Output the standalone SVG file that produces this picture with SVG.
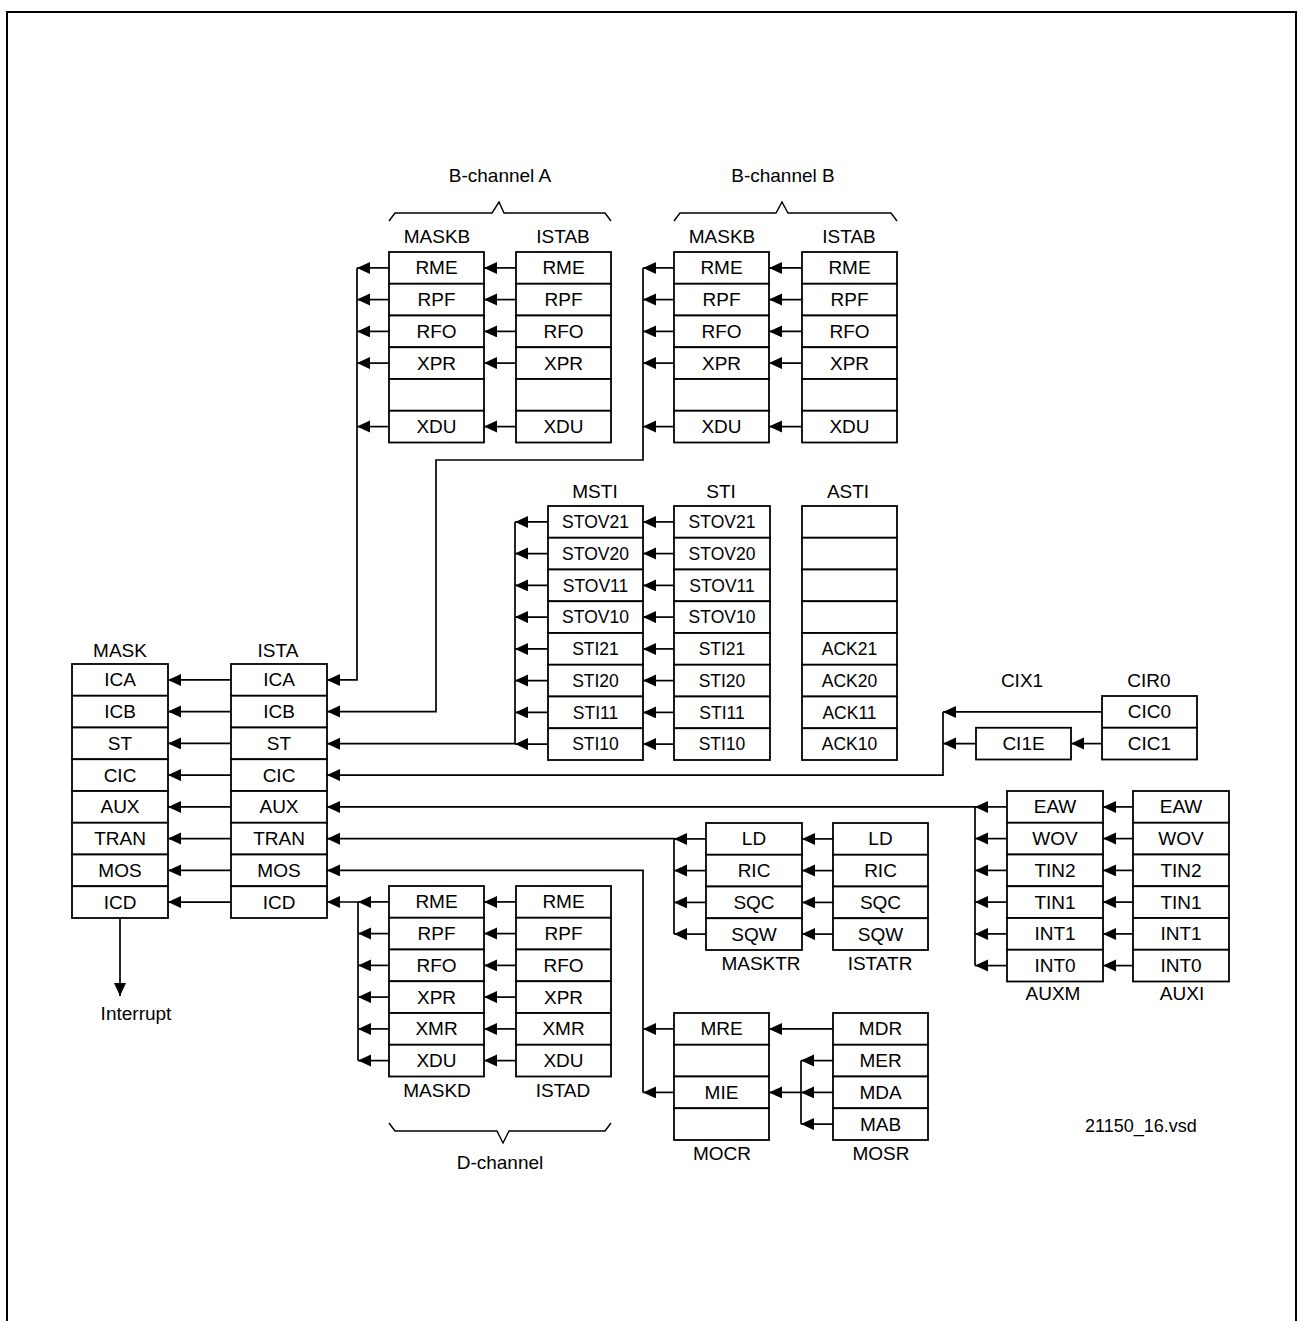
<svg xmlns="http://www.w3.org/2000/svg" width="1298" height="1321" viewBox="0 0 1298 1321">
<style>
.c{fill:#fff;stroke:#000;stroke-width:1.8}
text{font-family:"Liberation Sans",Arial,sans-serif;font-size:19px;fill:#000;text-anchor:middle}
.s{font-size:17.5px}
.w{fill:none;stroke:#000;stroke-width:1.7}
.a{fill:none;stroke:#000;stroke-width:1.7;marker-end:url(#ah)}
.br{fill:none;stroke:#000;stroke-width:1.4}
</style>
<defs>
<marker id="ah" markerUnits="userSpaceOnUse" markerWidth="14" markerHeight="13" refX="13" refY="6" orient="auto" viewBox="0 0 14 13">
<path d="M0,0 L13,6 L0,12 z" fill="#000"/>
</marker>
</defs>
<rect width="1298" height="1321" fill="#fff"/>
<path d="M7,1321 V12 H1296 V1321" fill="none" stroke="#000" stroke-width="2"/>

<g id="connectors">
<!-- ISTA to MASK -->
<line class="a" x1="231" y1="679.9" x2="168" y2="679.9"/>
<line class="a" x1="231" y1="711.6" x2="168" y2="711.6"/>
<line class="a" x1="231" y1="743.4" x2="168" y2="743.4"/>
<line class="a" x1="231" y1="775.1" x2="168" y2="775.1"/>
<line class="a" x1="231" y1="806.9" x2="168" y2="806.9"/>
<line class="a" x1="231" y1="838.6" x2="168" y2="838.6"/>
<line class="a" x1="231" y1="870.4" x2="168" y2="870.4"/>
<line class="a" x1="231" y1="902.1" x2="168" y2="902.1"/>
<path class="a" d="M120,918 V996"/>
<!-- B-channel A -->
<line class="a" x1="516" y1="267.9" x2="484" y2="267.9"/>
<line class="a" x1="516" y1="299.6" x2="484" y2="299.6"/>
<line class="a" x1="516" y1="331.4" x2="484" y2="331.4"/>
<line class="a" x1="516" y1="363.1" x2="484" y2="363.1"/>
<line class="a" x1="516" y1="426.6" x2="484" y2="426.6"/>
<line class="a" x1="389" y1="267.9" x2="357" y2="267.9"/>
<line class="a" x1="389" y1="299.6" x2="357" y2="299.6"/>
<line class="a" x1="389" y1="331.4" x2="357" y2="331.4"/>
<line class="a" x1="389" y1="363.1" x2="357" y2="363.1"/>
<line class="a" x1="389" y1="426.6" x2="357" y2="426.6"/>
<path class="a" d="M357,267.9 V679.9 H327"/>
<!-- B-channel B -->
<line class="a" x1="802" y1="267.9" x2="769" y2="267.9"/>
<line class="a" x1="802" y1="299.6" x2="769" y2="299.6"/>
<line class="a" x1="802" y1="331.4" x2="769" y2="331.4"/>
<line class="a" x1="802" y1="363.1" x2="769" y2="363.1"/>
<line class="a" x1="802" y1="426.6" x2="769" y2="426.6"/>
<line class="a" x1="674" y1="267.9" x2="643" y2="267.9"/>
<line class="a" x1="674" y1="299.6" x2="643" y2="299.6"/>
<line class="a" x1="674" y1="331.4" x2="643" y2="331.4"/>
<line class="a" x1="674" y1="363.1" x2="643" y2="363.1"/>
<line class="a" x1="674" y1="426.6" x2="643" y2="426.6"/>
<path class="a" d="M643,267.9 V460 H436 V711.6 H327"/>
<!-- STI -->
<line class="a" x1="674" y1="521.9" x2="643" y2="521.9"/>
<line class="a" x1="674" y1="553.6" x2="643" y2="553.6"/>
<line class="a" x1="674" y1="585.4" x2="643" y2="585.4"/>
<line class="a" x1="674" y1="617.1" x2="643" y2="617.1"/>
<line class="a" x1="674" y1="648.9" x2="643" y2="648.9"/>
<line class="a" x1="674" y1="680.6" x2="643" y2="680.6"/>
<line class="a" x1="674" y1="712.4" x2="643" y2="712.4"/>
<line class="a" x1="674" y1="744.1" x2="643" y2="744.1"/>
<line class="a" x1="548" y1="521.9" x2="515" y2="521.9"/>
<line class="a" x1="548" y1="553.6" x2="515" y2="553.6"/>
<line class="a" x1="548" y1="585.4" x2="515" y2="585.4"/>
<line class="a" x1="548" y1="617.1" x2="515" y2="617.1"/>
<line class="a" x1="548" y1="648.9" x2="515" y2="648.9"/>
<line class="a" x1="548" y1="680.6" x2="515" y2="680.6"/>
<line class="a" x1="548" y1="712.4" x2="515" y2="712.4"/>
<line class="a" x1="548" y1="744.1" x2="515" y2="744.1"/>
<path class="a" d="M515,521.9 V743.7 H327"/>
<!-- CIX1 / CIR0 -->
<line class="a" x1="1102" y1="711.9" x2="943" y2="711.9"/>
<line class="a" x1="1102" y1="743.6" x2="1071" y2="743.6"/>
<line class="a" x1="976" y1="743.6" x2="943" y2="743.6"/>
<path class="a" d="M943,711.9 V775.1 H327"/>
<!-- AUX -->
<line class="a" x1="1133" y1="806.9" x2="1103" y2="806.9"/>
<line class="a" x1="1133" y1="838.6" x2="1103" y2="838.6"/>
<line class="a" x1="1133" y1="870.4" x2="1103" y2="870.4"/>
<line class="a" x1="1133" y1="902.1" x2="1103" y2="902.1"/>
<line class="a" x1="1133" y1="933.9" x2="1103" y2="933.9"/>
<line class="a" x1="1133" y1="965.6" x2="1103" y2="965.6"/>
<line class="a" x1="1007" y1="806.9" x2="975" y2="806.9"/>
<line class="a" x1="1007" y1="838.6" x2="975" y2="838.6"/>
<line class="a" x1="1007" y1="870.4" x2="975" y2="870.4"/>
<line class="a" x1="1007" y1="902.1" x2="975" y2="902.1"/>
<line class="a" x1="1007" y1="933.9" x2="975" y2="933.9"/>
<line class="a" x1="1007" y1="965.6" x2="975" y2="965.6"/>
<path class="a" d="M975,965.6 V806.9 H327"/>
<!-- TRAN -->
<line class="a" x1="833" y1="838.9" x2="802" y2="838.9"/>
<line class="a" x1="833" y1="870.6" x2="802" y2="870.6"/>
<line class="a" x1="833" y1="902.4" x2="802" y2="902.4"/>
<line class="a" x1="833" y1="934.1" x2="802" y2="934.1"/>
<line class="a" x1="706" y1="838.9" x2="674" y2="838.9"/>
<line class="a" x1="706" y1="870.6" x2="674" y2="870.6"/>
<line class="a" x1="706" y1="902.4" x2="674" y2="902.4"/>
<line class="a" x1="706" y1="934.1" x2="674" y2="934.1"/>
<path class="a" d="M674,934.1 V838.7 H327"/>
<!-- MOS -->
<line class="a" x1="833" y1="1028.9" x2="769" y2="1028.9"/>
<line class="a" x1="833" y1="1060.6" x2="801" y2="1060.6"/>
<line class="a" x1="833" y1="1092.4" x2="801" y2="1092.4"/>
<line class="a" x1="833" y1="1124.1" x2="801" y2="1124.1"/>
<line class="w" x1="801" y1="1060.6" x2="801" y2="1124.1"/>
<line class="a" x1="801" y1="1092.4" x2="769" y2="1092.4"/>
<line class="a" x1="674" y1="1028.9" x2="643" y2="1028.9"/>
<line class="a" x1="674" y1="1092.4" x2="643" y2="1092.4"/>
<path class="a" d="M643,1092.4 V870.4 H327"/>
<!-- D-channel -->
<line class="a" x1="516" y1="901.9" x2="484" y2="901.9"/>
<line class="a" x1="516" y1="933.6" x2="484" y2="933.6"/>
<line class="a" x1="516" y1="965.4" x2="484" y2="965.4"/>
<line class="a" x1="516" y1="997.1" x2="484" y2="997.1"/>
<line class="a" x1="516" y1="1028.9" x2="484" y2="1028.9"/>
<line class="a" x1="516" y1="1060.6" x2="484" y2="1060.6"/>
<line class="a" x1="389" y1="901.9" x2="358" y2="901.9"/>
<line class="a" x1="389" y1="933.6" x2="358" y2="933.6"/>
<line class="a" x1="389" y1="965.4" x2="358" y2="965.4"/>
<line class="a" x1="389" y1="997.1" x2="358" y2="997.1"/>
<line class="a" x1="389" y1="1028.9" x2="358" y2="1028.9"/>
<line class="a" x1="389" y1="1060.6" x2="358" y2="1060.6"/>
<path class="a" d="M358,1060.6 V902 H327"/>
</g>

<g id="MASK">
<text x="120" y="657">MASK</text>
<rect class="c" x="72" y="664" width="96" height="31.75"/><text x="120" y="686.4">ICA</text>
<rect class="c" x="72" y="695.75" width="96" height="31.75"/><text x="120" y="718.1">ICB</text>
<rect class="c" x="72" y="727.5" width="96" height="31.75"/><text x="120" y="749.9">ST</text>
<rect class="c" x="72" y="759.25" width="96" height="31.75"/><text x="120" y="781.6">CIC</text>
<rect class="c" x="72" y="791" width="96" height="31.75"/><text x="120" y="813.4">AUX</text>
<rect class="c" x="72" y="822.75" width="96" height="31.75"/><text x="120" y="845.1">TRAN</text>
<rect class="c" x="72" y="854.5" width="96" height="31.75"/><text x="120" y="876.9">MOS</text>
<rect class="c" x="72" y="886.25" width="96" height="31.75"/><text x="120" y="908.6">ICD</text>
</g>
<g id="ISTA">
<text x="278" y="657">ISTA</text>
<rect class="c" x="231" y="664" width="96" height="31.75"/><text x="279" y="686.4">ICA</text>
<rect class="c" x="231" y="695.75" width="96" height="31.75"/><text x="279" y="718.1">ICB</text>
<rect class="c" x="231" y="727.5" width="96" height="31.75"/><text x="279" y="749.9">ST</text>
<rect class="c" x="231" y="759.25" width="96" height="31.75"/><text x="279" y="781.6">CIC</text>
<rect class="c" x="231" y="791" width="96" height="31.75"/><text x="279" y="813.4">AUX</text>
<rect class="c" x="231" y="822.75" width="96" height="31.75"/><text x="279" y="845.1">TRAN</text>
<rect class="c" x="231" y="854.5" width="96" height="31.75"/><text x="279" y="876.9">MOS</text>
<rect class="c" x="231" y="886.25" width="96" height="31.75"/><text x="279" y="908.6">ICD</text>
</g>
<g id="interrupt"><text x="136" y="1020">Interrupt</text></g>

<g id="bchannelA">
<text x="500" y="182">B-channel A</text>
<path class="br" d="M389,221 L395,213 H492 L499,202 L504,213 H605 L611,221"/>
</g>
<g id="MASKB_A">
<text x="437" y="243">MASKB</text>
<rect class="c" x="389" y="252" width="95" height="31.75"/><text x="436.5" y="274.4">RME</text>
<rect class="c" x="389" y="283.75" width="95" height="31.75"/><text x="436.5" y="306.1">RPF</text>
<rect class="c" x="389" y="315.5" width="95" height="31.75"/><text x="436.5" y="337.9">RFO</text>
<rect class="c" x="389" y="347.25" width="95" height="31.75"/><text x="436.5" y="369.6">XPR</text>
<rect class="c" x="389" y="379" width="95" height="31.75"/>
<rect class="c" x="389" y="410.75" width="95" height="31.75"/><text x="436.5" y="433.1">XDU</text>
</g>
<g id="ISTAB_A">
<text x="563" y="243">ISTAB</text>
<rect class="c" x="516" y="252" width="95" height="31.75"/><text x="563.5" y="274.4">RME</text>
<rect class="c" x="516" y="283.75" width="95" height="31.75"/><text x="563.5" y="306.1">RPF</text>
<rect class="c" x="516" y="315.5" width="95" height="31.75"/><text x="563.5" y="337.9">RFO</text>
<rect class="c" x="516" y="347.25" width="95" height="31.75"/><text x="563.5" y="369.6">XPR</text>
<rect class="c" x="516" y="379" width="95" height="31.75"/>
<rect class="c" x="516" y="410.75" width="95" height="31.75"/><text x="563.5" y="433.1">XDU</text>
</g>

<g id="bchannelB">
<text x="783" y="182">B-channel B</text>
<path class="br" d="M674,221 L680,213 H776 L782,202 L788,213 H891 L897,221"/>
</g>
<g id="MASKB_B">
<text x="722" y="243">MASKB</text>
<rect class="c" x="674" y="252" width="95" height="31.75"/><text x="721.5" y="274.4">RME</text>
<rect class="c" x="674" y="283.75" width="95" height="31.75"/><text x="721.5" y="306.1">RPF</text>
<rect class="c" x="674" y="315.5" width="95" height="31.75"/><text x="721.5" y="337.9">RFO</text>
<rect class="c" x="674" y="347.25" width="95" height="31.75"/><text x="721.5" y="369.6">XPR</text>
<rect class="c" x="674" y="379" width="95" height="31.75"/>
<rect class="c" x="674" y="410.75" width="95" height="31.75"/><text x="721.5" y="433.1">XDU</text>
</g>
<g id="ISTAB_B">
<text x="849" y="243">ISTAB</text>
<rect class="c" x="802" y="252" width="95" height="31.75"/><text x="849.5" y="274.4">RME</text>
<rect class="c" x="802" y="283.75" width="95" height="31.75"/><text x="849.5" y="306.1">RPF</text>
<rect class="c" x="802" y="315.5" width="95" height="31.75"/><text x="849.5" y="337.9">RFO</text>
<rect class="c" x="802" y="347.25" width="95" height="31.75"/><text x="849.5" y="369.6">XPR</text>
<rect class="c" x="802" y="379" width="95" height="31.75"/>
<rect class="c" x="802" y="410.75" width="95" height="31.75"/><text x="849.5" y="433.1">XDU</text>
</g>

<g id="MSTI">
<text x="595" y="498">MSTI</text>
<rect class="c" x="548" y="506" width="95" height="31.75"/><text class="s" x="595.5" y="528.1">STOV21</text>
<rect class="c" x="548" y="537.75" width="95" height="31.75"/><text class="s" x="595.5" y="559.8">STOV20</text>
<rect class="c" x="548" y="569.5" width="95" height="31.75"/><text class="s" x="595.5" y="591.6">STOV11</text>
<rect class="c" x="548" y="601.25" width="95" height="31.75"/><text class="s" x="595.5" y="623.3">STOV10</text>
<rect class="c" x="548" y="633" width="95" height="31.75"/><text class="s" x="595.5" y="655.1">STI21</text>
<rect class="c" x="548" y="664.75" width="95" height="31.75"/><text class="s" x="595.5" y="686.8">STI20</text>
<rect class="c" x="548" y="696.5" width="95" height="31.75"/><text class="s" x="595.5" y="718.6">STI11</text>
<rect class="c" x="548" y="728.25" width="95" height="31.75"/><text class="s" x="595.5" y="750.3">STI10</text>
</g>
<g id="STI">
<text x="721" y="498">STI</text>
<rect class="c" x="674" y="506" width="96" height="31.75"/><text class="s" x="722" y="528.1">STOV21</text>
<rect class="c" x="674" y="537.75" width="96" height="31.75"/><text class="s" x="722" y="559.8">STOV20</text>
<rect class="c" x="674" y="569.5" width="96" height="31.75"/><text class="s" x="722" y="591.6">STOV11</text>
<rect class="c" x="674" y="601.25" width="96" height="31.75"/><text class="s" x="722" y="623.3">STOV10</text>
<rect class="c" x="674" y="633" width="96" height="31.75"/><text class="s" x="722" y="655.1">STI21</text>
<rect class="c" x="674" y="664.75" width="96" height="31.75"/><text class="s" x="722" y="686.8">STI20</text>
<rect class="c" x="674" y="696.5" width="96" height="31.75"/><text class="s" x="722" y="718.6">STI11</text>
<rect class="c" x="674" y="728.25" width="96" height="31.75"/><text class="s" x="722" y="750.3">STI10</text>
</g>
<g id="ASTI">
<text x="848" y="498">ASTI</text>
<rect class="c" x="802" y="506" width="95" height="31.75"/>
<rect class="c" x="802" y="537.75" width="95" height="31.75"/>
<rect class="c" x="802" y="569.5" width="95" height="31.75"/>
<rect class="c" x="802" y="601.25" width="95" height="31.75"/>
<rect class="c" x="802" y="633" width="95" height="31.75"/><text class="s" x="849.5" y="655.1">ACK21</text>
<rect class="c" x="802" y="664.75" width="95" height="31.75"/><text class="s" x="849.5" y="686.8">ACK20</text>
<rect class="c" x="802" y="696.5" width="95" height="31.75"/><text class="s" x="849.5" y="718.6">ACK11</text>
<rect class="c" x="802" y="728.25" width="95" height="31.75"/><text class="s" x="849.5" y="750.3">ACK10</text>
</g>

<g id="CIX1">
<text x="1022" y="687">CIX1</text>
<rect class="c" x="976" y="727.75" width="95" height="31.75"/><text x="1023.5" y="750.1">CI1E</text>
</g>
<g id="CIR0">
<text x="1149" y="687">CIR0</text>
<rect class="c" x="1102" y="696" width="95" height="31.75"/><text x="1149.5" y="718.4">CIC0</text>
<rect class="c" x="1102" y="727.75" width="95" height="31.75"/><text x="1149.5" y="750.1">CIC1</text>
</g>

<g id="AUXM">
<rect class="c" x="1007" y="791" width="96" height="31.75"/><text x="1055" y="813.4">EAW</text>
<rect class="c" x="1007" y="822.75" width="96" height="31.75"/><text x="1055" y="845.1">WOV</text>
<rect class="c" x="1007" y="854.5" width="96" height="31.75"/><text x="1055" y="876.9">TIN2</text>
<rect class="c" x="1007" y="886.25" width="96" height="31.75"/><text x="1055" y="908.6">TIN1</text>
<rect class="c" x="1007" y="918" width="96" height="31.75"/><text x="1055" y="940.4">INT1</text>
<rect class="c" x="1007" y="949.75" width="96" height="31.75"/><text x="1055" y="972.1">INT0</text>
<text x="1053" y="1000">AUXM</text>
</g>
<g id="AUXI">
<rect class="c" x="1133" y="791" width="96" height="31.75"/><text x="1181" y="813.4">EAW</text>
<rect class="c" x="1133" y="822.75" width="96" height="31.75"/><text x="1181" y="845.1">WOV</text>
<rect class="c" x="1133" y="854.5" width="96" height="31.75"/><text x="1181" y="876.9">TIN2</text>
<rect class="c" x="1133" y="886.25" width="96" height="31.75"/><text x="1181" y="908.6">TIN1</text>
<rect class="c" x="1133" y="918" width="96" height="31.75"/><text x="1181" y="940.4">INT1</text>
<rect class="c" x="1133" y="949.75" width="96" height="31.75"/><text x="1181" y="972.1">INT0</text>
<text x="1182" y="1000">AUXI</text>
</g>

<g id="MASKTR">
<rect class="c" x="706" y="823" width="96" height="31.75"/><text x="754" y="845.4">LD</text>
<rect class="c" x="706" y="854.75" width="96" height="31.75"/><text x="754" y="877.1">RIC</text>
<rect class="c" x="706" y="886.5" width="96" height="31.75"/><text x="754" y="908.9">SQC</text>
<rect class="c" x="706" y="918.25" width="96" height="31.75"/><text x="754" y="940.6">SQW</text>
<text x="761" y="970">MASKTR</text>
</g>
<g id="ISTATR">
<rect class="c" x="833" y="823" width="95" height="31.75"/><text x="880.5" y="845.4">LD</text>
<rect class="c" x="833" y="854.75" width="95" height="31.75"/><text x="880.5" y="877.1">RIC</text>
<rect class="c" x="833" y="886.5" width="95" height="31.75"/><text x="880.5" y="908.9">SQC</text>
<rect class="c" x="833" y="918.25" width="95" height="31.75"/><text x="880.5" y="940.6">SQW</text>
<text x="880" y="970">ISTATR</text>
</g>

<g id="MOCR">
<rect class="c" x="674" y="1013" width="95" height="31.75"/><text x="721.5" y="1035.4">MRE</text>
<rect class="c" x="674" y="1044.75" width="95" height="31.75"/>
<rect class="c" x="674" y="1076.5" width="95" height="31.75"/><text x="721.5" y="1098.9">MIE</text>
<rect class="c" x="674" y="1108.25" width="95" height="31.75"/>
<text x="722" y="1160">MOCR</text>
</g>
<g id="MOSR">
<rect class="c" x="833" y="1013" width="95" height="31.75"/><text x="880.5" y="1035.4">MDR</text>
<rect class="c" x="833" y="1044.75" width="95" height="31.75"/><text x="880.5" y="1067.1">MER</text>
<rect class="c" x="833" y="1076.5" width="95" height="31.75"/><text x="880.5" y="1098.9">MDA</text>
<rect class="c" x="833" y="1108.25" width="95" height="31.75"/><text x="880.5" y="1130.6">MAB</text>
<text x="881" y="1160">MOSR</text>
</g>

<g id="MASKD">
<rect class="c" x="389" y="886" width="95" height="31.75"/><text x="436.5" y="908.4">RME</text>
<rect class="c" x="389" y="917.75" width="95" height="31.75"/><text x="436.5" y="940.1">RPF</text>
<rect class="c" x="389" y="949.5" width="95" height="31.75"/><text x="436.5" y="971.9">RFO</text>
<rect class="c" x="389" y="981.25" width="95" height="31.75"/><text x="436.5" y="1003.6">XPR</text>
<rect class="c" x="389" y="1013" width="95" height="31.75"/><text x="436.5" y="1035.4">XMR</text>
<rect class="c" x="389" y="1044.75" width="95" height="31.75"/><text x="436.5" y="1067.1">XDU</text>
<text x="437" y="1097">MASKD</text>
</g>
<g id="ISTAD">
<rect class="c" x="516" y="886" width="95" height="31.75"/><text x="563.5" y="908.4">RME</text>
<rect class="c" x="516" y="917.75" width="95" height="31.75"/><text x="563.5" y="940.1">RPF</text>
<rect class="c" x="516" y="949.5" width="95" height="31.75"/><text x="563.5" y="971.9">RFO</text>
<rect class="c" x="516" y="981.25" width="95" height="31.75"/><text x="563.5" y="1003.6">XPR</text>
<rect class="c" x="516" y="1013" width="95" height="31.75"/><text x="563.5" y="1035.4">XMR</text>
<rect class="c" x="516" y="1044.75" width="95" height="31.75"/><text x="563.5" y="1067.1">XDU</text>
<text x="563" y="1097">ISTAD</text>
</g>
<g id="dchannel">
<path class="br" d="M389,1123 L395,1131 H497 L503,1143 L509,1131 H605 L611,1123"/>
<text x="500" y="1169">D-channel</text>
</g>

<g id="filename"><text x="1141" y="1132" style="font-size:18px">21150_16.vsd</text></g>
</svg>
